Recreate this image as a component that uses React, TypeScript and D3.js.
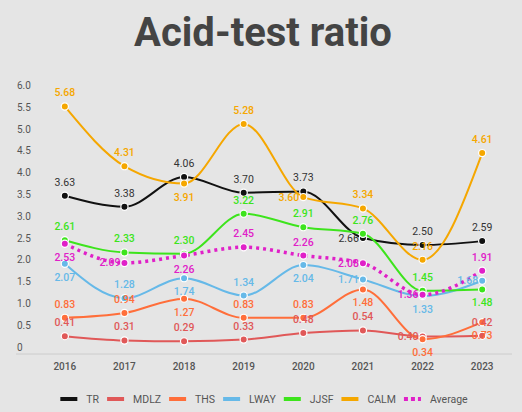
import React, { useEffect, useRef } from "react";
import * as d3 from "d3";

// Chart data
const years = ["2016", "2017", "2018", "2019", "2020", "2021", "2022", "2023"];

const trValues = [3.63, 3.38, 4.06, 3.7, 3.73, 2.66, 2.5, 2.59];
const mdlzValues = [0.41, 0.31, 0.29, 0.33, 0.48, 0.54, 0.4, 0.42];
const thsValues = [0.83, 0.94, 1.27, 0.83, 0.83, 1.48, 0.34, 0.73];
const lwayValues = [2.07, 1.28, 1.74, 1.34, 2.04, 1.71, 1.33, 1.68];
const jjsfValues = [2.61, 2.33, 2.3, 3.22, 2.91, 2.76, 1.45, 1.48];
const calmValues = [5.68, 4.31, 3.91, 5.28, 3.6, 3.34, 2.16, 4.61];
const averageValues = [2.53, 2.09, 2.26, 2.45, 2.26, 2.08, 1.36, 1.91];

const yTicks = [0, 0.5, 1, 1.5, 2, 2.5, 3, 3.5, 4, 4.5, 5, 5.5, 6];

type Series = {
    name: string;
    values: number[];
    color: string;
    labelColor: string;
    dotted?: boolean;
    // where each value label sits relative to its point: a=above, b=below, l=left
    place: string;
};

const series: Series[] = [
    { name: "TR", values: trValues, color: "#111111", labelColor: "#333333", place: "aaaaalaa" },
    { name: "MDLZ", values: mdlzValues, color: "#e05858", labelColor: "#e05858", place: "aaaaaala" },
    { name: "THS", values: thsValues, color: "#ff6e3a", labelColor: "#ff6e3a", place: "aabaabbb" },
    { name: "LWAY", values: lwayValues, color: "#66b9e8", labelColor: "#66b9e8", place: "babablbl" },
    { name: "JJSF", values: jjsfValues, color: "#3de41c", labelColor: "#3de41c", place: "aaaaaaab" },
    { name: "CALM", values: calmValues, color: "#f5a700", labelColor: "#f5a700", place: "aabalaaa" },
    { name: "Average", values: averageValues, color: "#e020c8", labelColor: "#e020c8", dotted: true, place: "blbaalla" },
];

const App: React.FC = () => {
    const svgRef = useRef<SVGSVGElement | null>(null);

    useEffect(() => {
        const width = 522;
        const height = 412;

        const svg = d3.select(svgRef.current);
        svg.selectAll("*").remove();
        svg.attr("width", width).attr("height", height);

        svg.append("rect")
            .attr("width", width)
            .attr("height", height)
            .attr("fill", "#e5e5e5");

        // Title
        svg.append("text")
            .attr("x", 263)
            .attr("y", 46)
            .attr("text-anchor", "middle")
            .attr("font-family", "Roboto")
            .attr("font-weight", 700)
            .attr("font-size", 40)
            .attr("fill", "#444444")
            .text("Acid-test ratio");

        // Scales
        const x = d3.scalePoint<string>().domain(years).range([35, 512]).padding(0.5);
        const y = d3.scaleLinear().domain([0, 6]).range([354, 92.5]);

        // Baseline
        svg.append("line")
            .attr("x1", 16)
            .attr("x2", 512)
            .attr("y1", y(0))
            .attr("y2", y(0))
            .attr("stroke", "#cccccc")
            .attr("stroke-width", 1);

        // Y tick labels (sit a little above their value)
        svg.append("g")
            .selectAll("text")
            .data(yTicks)
            .enter()
            .append("text")
            .attr("x", 17)
            .attr("y", (d) => y(d) - 7)
            .attr("dominant-baseline", "central")
            .attr("font-family", "Roboto")
            .attr("font-size", 10)
            .attr("fill", "#555555")
            .text((d) => (d === 0 ? "0" : d.toFixed(1)));

        // X labels
        svg.append("g")
            .selectAll("text")
            .data(years)
            .enter()
            .append("text")
            .attr("x", (d) => x(d)!)
            .attr("y", 366)
            .attr("dominant-baseline", "central")
            .attr("text-anchor", "middle")
            .attr("font-family", "Roboto")
            .attr("font-weight", 500)
            .attr("font-size", 10)
            .attr("fill", "#555555")
            .text((d) => d);

        const line = d3
            .line<number>()
            .x((_, i) => x(years[i])!)
            .y((d) => y(d))
            .curve(d3.curveMonotoneX);

        // Lines
        series.forEach((s) => {
            svg.append("path")
                .datum(s.values)
                .attr("d", line)
                .attr("fill", "none")
                .attr("stroke", s.color)
                .attr("stroke-width", s.dotted ? 3.5 : 2)
                .attr("stroke-dasharray", s.dotted ? "3,4" : null);
        });

        // Points
        series.forEach((s) => {
            svg.append("g")
                .selectAll("circle")
                .data(s.values)
                .enter()
                .append("circle")
                .attr("cx", (_, i) => x(years[i])!)
                .attr("cy", (d) => y(d))
                .attr("r", 3.6)
                .attr("fill", s.color)
                .attr("stroke", "#ffffff")
                .attr("stroke-width", 1.2);
        });

        // Value labels
        series.forEach((s) => {
            svg.append("g")
                .selectAll("text")
                .data(s.values)
                .enter()
                .append("text")
                .attr("x", (_, i) => x(years[i])! + (s.place[i] === "l" ? -4 : 0))
                .attr("y", (d, i) => y(d) + (s.place[i] === "a" ? -13.5 : s.place[i] === "b" ? 13.5 : 0))
                .attr("text-anchor", (_, i) => (s.place[i] === "l" ? "end" : "middle"))
                .attr("dominant-baseline", "central")
                .attr("font-family", "Roboto")
                .attr("font-weight", s.name === "TR" ? 400 : 500)
                .attr("font-size", 10.5)
                .attr("fill", s.labelColor)
                .text((d) => d.toFixed(2));
        });

        // Legend
        const legend = svg.append("g");
        let lx = 0;
        series.forEach((s) => {
            const item = legend.append("g").attr("transform", `translate(${lx},0)`);
            item.append("line")
                .attr("x1", 0)
                .attr("x2", 17)
                .attr("y1", 0)
                .attr("y2", 0)
                .attr("stroke", s.color)
                .attr("stroke-width", s.dotted ? 4 : 4)
                .attr("stroke-dasharray", s.dotted ? "4,3" : null);
            const t = item.append("text")
                .attr("x", 26)
                .attr("y", 0)
                .attr("dominant-baseline", "central")
                .attr("font-family", "Roboto")
                .attr("font-size", 10.5)
                .attr("fill", "#555555")
                .text(s.name);
            const tw = (t.node() as SVGTextElement).getComputedTextLength();
            lx += 26 + tw + 8;
        });
        const legendWidth = lx - 8;
        legend.attr("transform", `translate(${264 - legendWidth / 2},399)`);
    }, []);

    return <svg ref={svgRef} style={{ position: "absolute", left: 0, top: 0 }} />;
};

export default App;
